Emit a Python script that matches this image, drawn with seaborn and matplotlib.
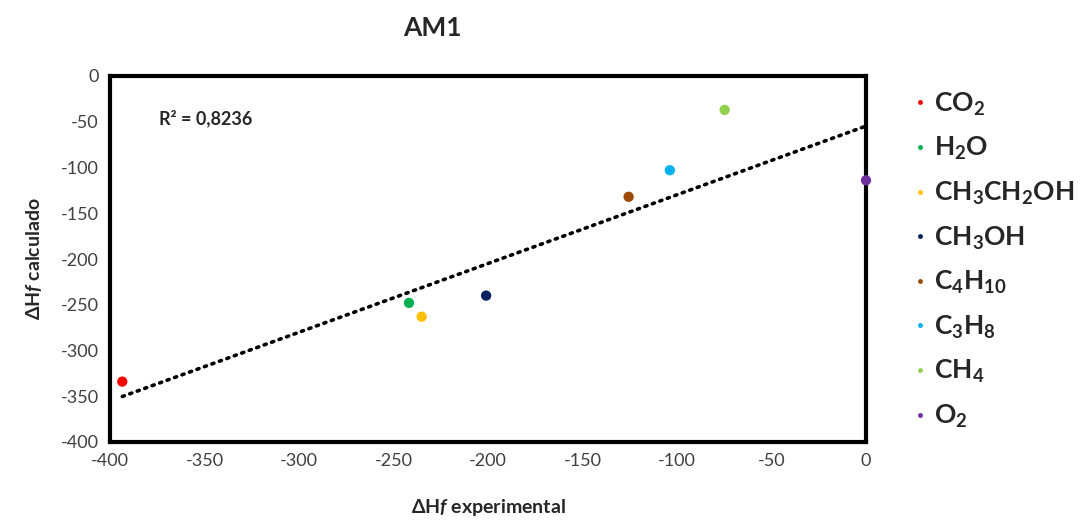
import numpy as np
import pandas as pd
import matplotlib
matplotlib.use("Agg")
import matplotlib.pyplot as plt
from matplotlib.lines import Line2D
import seaborn as sns

# data
species = ["CO2", "H2O", "CH3CH2OH", "CH3OH", "C4H10", "C3H8", "CH4", "O2"]
labels = ["CO$_2$", "H$_2$O", "CH$_3$CH$_2$OH", "CH$_3$OH", "C$_4$H$_{10}$",
          "C$_3$H$_8$", "CH$_4$", "O$_2$"]
dh_exp = [-393.5, -241.8, -235.1, -201.0, -125.6, -103.8, -74.8, 0.0]
dh_calc = [-334, -248, -263, -240, -132, -103, -37, -114]
colors = ["#FF0000", "#00B050", "#FFC000", "#002060", "#9C4A0A",
          "#00B0F0", "#92D050", "#7030A0"]
r2_text = "R² = 0,8236"
ticks = list(range(-400, 1, 50))

df = pd.DataFrame({"species": species, "exp": dh_exp, "calc": dh_calc})

sns.set_style("white")
plt.rcParams["font.family"] = ["Lato", "DejaVu Sans"]
plt.rcParams["axes.unicode_minus"] = False
plt.rcParams["mathtext.fontset"] = "custom"
plt.rcParams["mathtext.rm"] = "Lato:bold"
plt.rcParams["mathtext.it"] = "Lato:bold:italic"
plt.rcParams["mathtext.bf"] = "Lato:bold"

fig = plt.figure(figsize=(10.88, 5.24), dpi=100)
ax = fig.add_axes([110 / 1088, 1 - 442 / 524, 756 / 1088, 366 / 524])

# linear trendline
slope, icpt = np.polyfit(df["exp"], df["calc"], 1)
xs = np.array([min(dh_exp), max(dh_exp)])
ax.plot(xs, slope * xs + icpt, color="black", lw=2.6,
        linestyle=(0, (0.6, 1.6)), dash_capstyle="round", zorder=1)

sns.scatterplot(data=df, x="exp", y="calc", hue="species",
                palette=dict(zip(species, colors)), s=55, edgecolor="none",
                legend=False, ax=ax, zorder=3)
for coll in ax.collections:
    coll.set_clip_on(False)

ax.set_xlim(-400, 0)
ax.set_ylim(-400, 0)
ax.set_xticks(ticks)
ax.set_yticks(ticks)
ax.tick_params(length=0, labelsize=13, labelcolor="#404040", pad=8)
for sp in ax.spines.values():
    sp.set_linewidth(3)
    sp.set_color("black")
    sp.set_visible(True)
    sp.set_zorder(2)

ax.set_xlabel("ΔH$\\it{f}$ experimental", fontsize=14, fontweight="bold", labelpad=20)
ax.set_ylabel("ΔH$\\it{f}$ calculado", fontsize=14, fontweight="bold", labelpad=12)
ax.text(0.065, 0.885, r2_text, transform=ax.transAxes, fontsize=13,
        fontweight="bold", ha="left", va="center")

fig.text(432 / 1088, 1 - 28 / 524, "AM1", fontsize=19, fontweight="bold",
         ha="center", va="center")

handles = [Line2D([0], [0], marker="o", linestyle="none", markersize=3.5,
                  markerfacecolor=c, markeredgecolor="none") for c in colors]
leg = fig.legend(handles, labels, loc="upper left",
                 bbox_to_anchor=(902 / 1088, 1 - 80 / 524), frameon=False,
                 handlelength=0.6, handletextpad=0.2, labelspacing=0.66,
                 prop={"size": 19, "weight": "bold"}, borderaxespad=0)

fig.savefig("out.png", dpi=100)
